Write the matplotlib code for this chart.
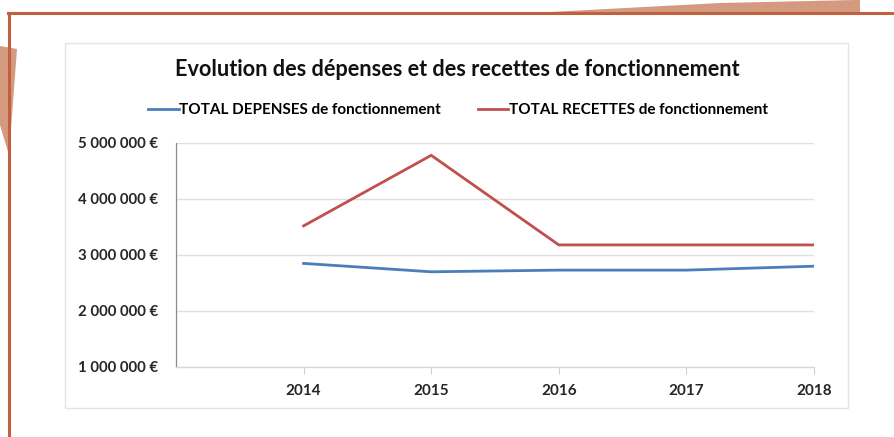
import matplotlib
matplotlib.use('Agg')
import matplotlib.pyplot as plt
from matplotlib.patches import Polygon, Rectangle
from matplotlib.lines import Line2D
import numpy as np

plt.rcParams['font.family'] = ['Lato', 'DejaVu Sans']

years = ['2014', '2015', '2016', '2017', '2018']
depenses = [2850000, 2700000, 2730000, 2730000, 2800000]
recettes = [3520000, 4780000, 3180000, 3180000, 3180000]
y_ticks = [1000000, 2000000, 3000000, 4000000, 5000000]

W, H = 895, 437
fig = plt.figure(figsize=(W / 100, H / 100), dpi=100)
fig.patch.set_facecolor('white')


def px(x, y):
    # pixel coords (top-left origin) -> figure fraction
    return (x / W, 1 - y / H)


# decorative page frame
salmon = '#d49a80'
frame = '#c0603f'
fig.patches.append(Polygon([px(531, 13), px(720, 3), px(855, 0), px(860, 0), px(860, 13)],
                           closed=True, transform=fig.transFigure, fc=salmon, ec='none', zorder=0))
fig.patches.append(Polygon([px(0, 46), px(17, 49), px(9, 155), px(0, 125)],
                           closed=True, transform=fig.transFigure, fc=salmon, ec='none', zorder=0))
fig.lines.append(Line2D([8 / W, 1], [1 - 13 / H, 1 - 13 / H], transform=fig.transFigure,
                        color=frame, lw=2.2, zorder=1))
fig.lines.append(Line2D([9 / W, 9 / W], [1 - 13 / H, 0], transform=fig.transFigure,
                        color=frame, lw=2.2, zorder=1))

# chart area box
x0, y0 = px(65, 408)
x1, y1 = px(848, 43)
fig.patches.append(Rectangle((x0, y0), x1 - x0, y1 - y0, transform=fig.transFigure,
                             fc='white', ec='#e4e4e4', lw=1.0, zorder=1))

l, b = px(176, 367)
r, t = px(814, 143)
ax = fig.add_axes([l, b, r - l, t - b])
ax.set_facecolor('none')
ax.set_zorder(2)

xs = np.arange(1, len(years) + 1)
ax.plot(xs, depenses, color='#4a7ebb', lw=2.0, solid_joinstyle='round',
        label='TOTAL DEPENSES de fonctionnement')
ax.plot(xs, recettes, color='#c0504d', lw=2.0, solid_joinstyle='miter',
        label='TOTAL RECETTES de fonctionnement')

ax.set_xlim(0, len(years))
ax.set_ylim(1000000, 5000000)
ax.set_yticks(y_ticks)
ax.set_yticklabels(['{:,} €'.format(v).replace(',', ' ') for v in y_ticks],
                   fontsize=10.8, fontweight='bold', color='#262626')
ax.set_xticks(xs)
ax.set_xticklabels(years, fontsize=11, fontweight='bold', color='#262626')
ax.tick_params(axis='y', length=0, pad=13)
ax.tick_params(axis='x', length=5, color='#d0d0d0', pad=7)
ax.grid(axis='y', color='#e0e0e0', lw=1.0)
ax.set_axisbelow(True)
for s in ['top', 'right']:
    ax.spines[s].set_visible(False)
ax.spines['left'].set_color('#8a8a8a')
ax.spines['left'].set_linewidth(0.9)
ax.spines['bottom'].set_color('#d8d8d8')
ax.spines['bottom'].set_linewidth(1.0)

fig.text(457 / W, 1 - 70 / H, 'Evolution des dépenses et des recettes de fonctionnement',
         ha='center', va='center', fontsize=15.6, fontweight='bold', color='#111111')
fig.legend(loc='center', bbox_to_anchor=(458 / W, 1 - 110 / H), ncol=2, frameon=False,
           prop={'weight': 'bold', 'size': 11}, handlelength=2.0, handletextpad=0.05,
           columnspacing=2.4, borderpad=0)

fig.savefig('out.png', dpi=100)
